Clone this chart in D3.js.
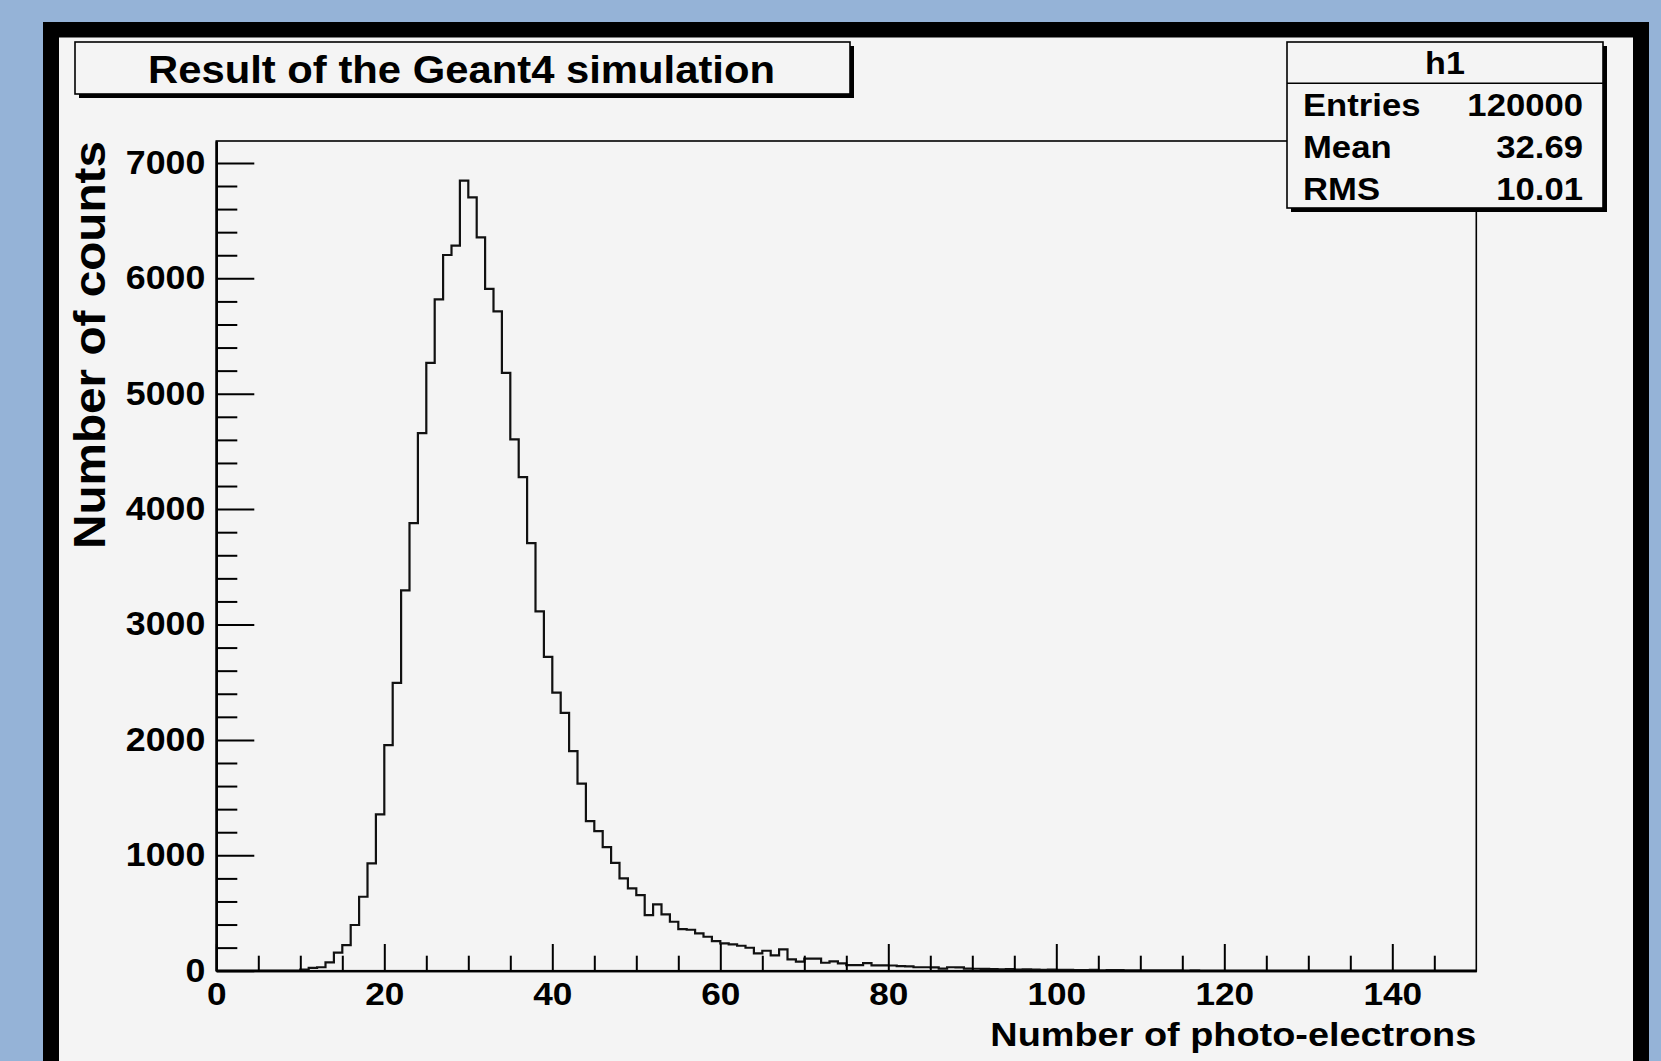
<!DOCTYPE html>
<html><head><meta charset="utf-8">
<script src="https://cdn.jsdelivr.net/npm/d3@7"></script>
<style>
html,body{margin:0;padding:0;background:#95b3d7;overflow:hidden}
svg{display:block}
text{font-family:"Liberation Sans",Arial,Helvetica,sans-serif;font-weight:bold;fill:#000}
</style></head><body>
<svg id="c" width="1661" height="1061"></svg>
<script>
// ---------------- data ----------------
const histTitle = "Result of the Geant4 simulation";
const histName = "h1";
const xTitle = "Number of photo-electrons";
const yTitle = "Number of counts";
const statLabels = ["Entries", "Mean", "RMS"];
const statValues = ["120000", "32.69", "10.01"];
const xMin = 0, xMax = 150, binWidth = 1;
const yMax = 7190;
const xMajorTicks = [0, 20, 40, 60, 80, 100, 120, 140];
const xMinorTicks = [5, 10, 15, 25, 30, 35, 45, 50, 55, 65, 70, 75, 85, 90, 95, 105, 110, 115, 125, 130, 135, 145];
const yMajorTicks = [0, 1000, 2000, 3000, 4000, 5000, 6000, 7000];
const yMinorTicks = [200, 400, 600, 800, 1200, 1400, 1600, 1800, 2200, 2400, 2600, 2800, 3200, 3400, 3600, 3800,
  4200, 4400, 4600, 4800, 5200, 5400, 5600, 5800, 6200, 6400, 6600, 6800];
// bin contents, bins 0..149 (width 1)
const counts = [
  0, 0, 0, 0, 0, 0, 0, 0, 0, 0,
  10, 25, 30, 72, 156, 222, 396, 641, 930, 1354,
  1954, 2494, 3296, 3879, 4658, 5267, 5818, 6202, 6283, 6846,
  6701, 6355, 5908, 5714, 5181, 4604, 4277, 3706, 3114, 2719,
  2410, 2234, 1902, 1622, 1296, 1210, 1071, 935, 800, 713,
  655, 482, 575, 488, 424, 361, 355, 324, 294, 257,
  237, 228, 216, 199, 150, 173, 133, 185, 99, 78,
  104, 104, 69, 80, 63, 49, 49, 66, 46, 46,
  45, 40, 38, 30, 30, 28, 18, 30, 28, 18,
  17, 15, 14, 12, 14, 10, 11, 9, 8, 10,
  7, 8, 6, 5, 7, 4, 5, 6, 4, 3,
  4, 3, 2, 2, 3, 1, 2, 1, 1, 1,
  1, 0, 1, 0, 0, 0, 0, 0, 0, 0,
  0, 0, 0, 0, 0, 0, 0, 0, 0, 0,
  0, 0, 0, 0, 0, 0, 0, 0, 0, 0
];

// ---------------- drawing ----------------
const svg = d3.select("#c");
const W = 1661, H = 1061;
const frame = {left: 216.3, top: 141, right: 1476.3, bottom: 970.7};
const WIDEN = 1.1;

function widen(sel, f) {
  sel.each(function () {
    const l = this.getComputedTextLength();
    d3.select(this).attr("textLength", l * f).attr("lengthAdjust", "spacingAndGlyphs");
  });
}

// background + canvas border
svg.append("rect").attr("x", 0).attr("y", 0).attr("width", W).attr("height", H).attr("fill", "#95b3d7");
svg.append("rect").attr("x", 43).attr("y", 22).attr("width", 1606).attr("height", 1100).attr("fill", "#000");
svg.append("rect").attr("x", 59).attr("y", 37.5).attr("width", 1574).attr("height", 1100).attr("fill", "#f4f4f4");

const x = d3.scaleLinear().domain([xMin, xMax]).range([frame.left, frame.right]);
const y = d3.scaleLinear().domain([0, yMax]).range([frame.bottom, frame.top]);

// frame
svg.append("rect")
  .attr("x", frame.left).attr("y", frame.top)
  .attr("width", frame.right - frame.left).attr("height", frame.bottom - frame.top)
  .attr("fill", "#f4f4f4").attr("stroke", "#000").attr("stroke-width", 1.6);

// histogram
const pts = counts.map((c, i) => [xMin + i * binWidth, c]);
pts.push([xMax, 0]);
svg.append("defs").append("clipPath").attr("id", "clip")
  .append("rect").attr("x", frame.left).attr("y", frame.top)
  .attr("width", frame.right - frame.left).attr("height", frame.bottom - frame.top);
const line = d3.line().x(d => x(d[0])).y(d => y(d[1])).curve(d3.curveStepAfter);
svg.append("path").datum([[xMin, 0]].concat(pts))
  .attr("d", line).attr("fill", "none").attr("stroke", "#111").attr("stroke-width", 2.2)
  .attr("clip-path", "url(#clip)");

// axes
const gx = svg.append("g").attr("transform", `translate(0,${frame.bottom})`);
gx.call(d3.axisBottom(x).tickValues(xMinorTicks).tickSizeInner(-15).tickSizeOuter(0).tickFormat(""));
gx.append("g").call(d3.axisBottom(x).tickValues(xMajorTicks).tickSizeInner(-26.7).tickSizeOuter(0).tickPadding(12));
gx.selectAll("path.domain").attr("stroke", "#000").attr("stroke-width", 2.2);
gx.selectAll("line").attr("stroke", "#000").attr("stroke-width", 2);
gx.selectAll("text").attr("font-size", 32).attr("font-family", null).attr("fill", "#000");

const gy = svg.append("g").attr("transform", `translate(${frame.left},0)`);
gy.call(d3.axisLeft(y).tickValues(yMinorTicks).tickSizeInner(-21).tickSizeOuter(0).tickFormat(""));
gy.append("g").call(d3.axisLeft(y).tickValues(yMajorTicks).tickSizeInner(-38).tickSizeOuter(0).tickPadding(11).tickFormat(d3.format("d")));
gy.selectAll("path.domain").attr("stroke", "#000").attr("stroke-width", 2.2);
gy.selectAll("line").attr("stroke", "#000").attr("stroke-width", 2);
gy.selectAll("text").attr("font-size", 32.5).attr("font-family", null).attr("fill", "#000");
gx.selectAll("text").call(widen, WIDEN);
gy.selectAll("text").call(widen, WIDEN);

// axis titles
svg.append("text").attr("x", frame.right).attr("y", 1046).attr("text-anchor", "end")
  .attr("font-size", 33).text(xTitle).attr("textLength", 486).attr("lengthAdjust", "spacingAndGlyphs");
svg.append("text").attr("transform", `translate(105,${frame.top}) rotate(-90)`).attr("text-anchor", "end")
  .attr("font-size", 44).text(yTitle).attr("textLength", 408).attr("lengthAdjust", "spacingAndGlyphs");

// title box
function shadowBox(bx, by, bw, bh) {
  svg.append("rect").attr("x", bx + 4).attr("y", by + 4).attr("width", bw).attr("height", bh).attr("fill", "#000");
  svg.append("rect").attr("x", bx).attr("y", by).attr("width", bw).attr("height", bh)
    .attr("fill", "#f4f4f4").attr("stroke", "#000").attr("stroke-width", 1.6);
}
shadowBox(75, 42, 775, 52);
svg.append("text").attr("x", 461.5).attr("y", 83.3).attr("text-anchor", "middle")
  .attr("font-size", 39).text(histTitle).attr("textLength", 627).attr("lengthAdjust", "spacingAndGlyphs");

// stats box
const sb = {x: 1287, y: 42, w: 316, h: 166};
shadowBox(sb.x, sb.y, sb.w, sb.h);
svg.append("line").attr("x1", sb.x).attr("x2", sb.x + sb.w).attr("y1", 83.3).attr("y2", 83.3)
  .attr("stroke", "#000").attr("stroke-width", 1.6);
svg.append("text").attr("x", sb.x + sb.w / 2).attr("y", 74).attr("text-anchor", "middle")
  .attr("font-size", 31).text(histName).call(widen, WIDEN);
const rowY = [116, 158.3, 200];
svg.selectAll("text.slab").data(statLabels).enter().append("text").attr("class", "slab")
  .attr("x", 1303).attr("y", (d, i) => rowY[i]).attr("font-size", 31.5).text(d => d).call(widen, WIDEN);
svg.selectAll("text.sval").data(statValues).enter().append("text").attr("class", "sval")
  .attr("x", 1583).attr("y", (d, i) => rowY[i]).attr("text-anchor", "end").attr("font-size", 31.5).text(d => d).call(widen, WIDEN);
</script>
</body></html>
